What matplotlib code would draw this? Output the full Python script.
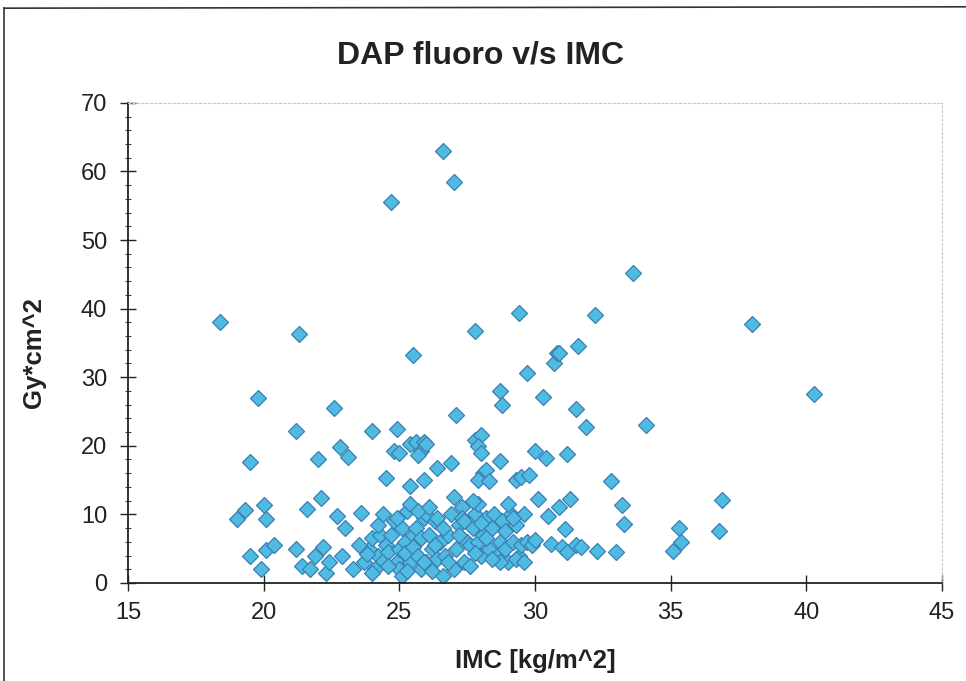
import matplotlib.pyplot as plt
from matplotlib.ticker import MultipleLocator
from matplotlib.lines import Line2D

plt.rcParams['font.family'] = ['Liberation Sans', 'DejaVu Sans']

# IMC [kg/m^2] and DAP fluoro [Gy*cm^2]
imc_sparse = [18.4, 21.3, 19.8, 19.5, 19.0, 19.3, 19.5, 19.9, 20.0, 20.1, 20.1, 20.4,
              21.2, 21.2, 21.4, 21.6, 21.7, 22.0, 22.1, 21.9, 22.2, 22.3, 22.4,
              22.6, 22.8, 23.1, 22.7, 23.0, 23.3, 22.9,
              23.6, 24.0, 24.5, 24.7, 24.9, 24.8, 25.0,
              25.5, 25.4, 25.6, 25.9, 25.8, 26.0, 25.7, 25.4, 25.9,
              26.6, 27.0, 27.1, 26.4, 26.9,
              27.8, 27.8, 28.0, 27.9, 28.0, 28.1, 27.9, 28.2, 28.3, 28.7, 28.7, 28.8, 29.4, 29.7,
              29.3, 29.5, 29.8, 30.0, 30.3, 30.4, 30.7, 30.8, 30.9,
              30.1, 30.5, 30.9, 31.2, 31.3, 31.1, 31.5, 31.6, 31.9, 32.2,
              30.6, 31.0, 31.2, 31.5, 31.7, 32.3,
              32.8, 33.2, 33.3, 33.0, 33.6, 34.1,
              35.1, 35.3, 35.4, 36.8, 36.9, 38.0, 40.3]
dap_sparse = [38.0, 36.3, 27.0, 17.7, 9.3, 10.7, 4.0, 2.0, 11.3, 9.3, 4.8, 5.5,
              22.1, 4.9, 2.5, 10.8, 2.0, 18.0, 12.4, 4.0, 5.3, 1.5, 3.0,
              25.5, 19.8, 18.3, 9.8, 8.0, 2.0, 4.0,
              10.2, 22.1, 15.3, 55.5, 22.5, 19.2, 19.0,
              33.2, 20.3, 20.5, 20.5, 19.3, 20.2, 18.7, 14.2, 15.0,
              63.0, 58.5, 24.5, 16.8, 17.5,
              36.8, 20.8, 21.6, 20.0, 18.9, 16.0, 15.0, 16.5, 14.8, 17.8, 28.0, 26.0, 39.3, 30.6,
              15.0, 15.5, 15.8, 19.3, 27.1, 18.2, 32.0, 33.5, 33.5,
              12.2, 9.8, 11.0, 18.8, 12.2, 7.8, 25.3, 34.5, 22.8, 39.1,
              5.7, 5.3, 4.5, 5.5, 5.3, 4.7,
              14.8, 11.3, 8.6, 4.5, 45.2, 23.0,
              4.7, 8.0, 6.0, 7.5, 12.1, 37.7, 27.5]

imc_dense = [23.7, 23.9, 24.0, 24.1, 24.2, 24.3, 24.4, 24.5, 24.6, 24.0, 23.8,
             24.7, 24.8, 24.9, 25.0, 25.1, 25.2, 25.3, 25.4, 25.5, 25.0, 25.2, 25.4, 24.9, 25.1, 25.5,
             25.6, 25.7, 25.8, 25.9, 26.0, 26.1, 26.2, 26.3, 26.4, 26.5, 25.8, 26.2, 26.0, 26.4,
             26.6, 26.7, 26.8, 26.9, 27.0, 27.1, 27.2, 27.3, 27.4, 27.5, 27.0, 27.2, 27.3,
             27.6, 27.7, 27.8, 27.9, 28.0, 28.1, 28.2, 28.3, 28.4, 28.5, 27.8, 28.2,
             28.6, 28.7, 28.8, 28.9, 29.0, 29.1, 29.2, 29.3, 29.4, 29.5, 29.0, 28.7, 29.3,
             29.7, 29.9, 29.6, 30.0,
             24.2, 24.6, 25.3, 25.7, 26.1, 26.6, 26.8, 27.6, 27.9, 28.4,
             28.9, 29.6, 24.4, 25.9, 26.3, 27.4, 28.0, 29.2, 27.7, 23.5]
dap_dense = [3.0, 5.0, 6.5, 2.0, 4.0, 7.0, 3.2, 5.5, 4.5, 1.5, 4.2,
             7.0, 9.0, 3.0, 5.0, 8.0, 6.0, 10.5, 3.0, 7.0, 2.0, 4.3, 11.5, 9.5, 1.0, 5.3,
             8.0, 4.0, 6.5, 9.5, 3.0, 7.0, 5.0, 9.0, 3.5, 6.0, 2.0, 1.8, 10.0, 9.5,
             1.0, 4.0, 7.0, 10.0, 12.5, 5.0, 8.5, 11.0, 3.0, 6.0, 2.0, 7.0, 9.5,
             5.5, 8.0, 10.0, 6.0, 4.0, 7.0, 9.5, 5.0, 8.0, 10.0, 4.3, 6.5,
             4.0, 6.0, 9.0, 5.0, 3.0, 10.0, 6.0, 8.5, 4.0, 5.5, 11.5, 3.0, 3.5,
             6.0, 5.5, 10.0, 6.2,
             8.5, 2.5, 1.8, 10.5, 11.0, 8.0, 3.0, 2.5, 11.5, 3.5,
             7.5, 3.0, 10.0, 3.0, 5.5, 9.0, 8.8, 9.5, 12.0, 5.5]

imc = imc_sparse + imc_dense
dap = dap_sparse + dap_dense

fig = plt.figure(figsize=(9.66, 6.81), dpi=100)
ax = fig.add_axes([0.1325, 0.144, 0.8425, 0.705])

ax.plot(imc, dap, linestyle='none', marker='D', markersize=8.5,
        markerfacecolor='#4fbae2', markeredgecolor='#3a7fb0', markeredgewidth=0.9)

ax.set_xlim(15, 45)
ax.set_ylim(0, 70)
ax.xaxis.set_major_locator(MultipleLocator(5))
ax.yaxis.set_major_locator(MultipleLocator(10))
ax.yaxis.set_minor_locator(MultipleLocator(2))

ax.tick_params(axis='both', which='major', direction='inout', length=12, width=1,
               labelsize=17, color='#222222', labelcolor='#222222')
ax.tick_params(axis='y', which='minor', direction='inout', length=5, width=0.8, color='#444444')
ax.tick_params(axis='x', pad=8)
ax.tick_params(axis='y', pad=9)

for side in ['left', 'bottom']:
    ax.spines[side].set_color('#222222')
    ax.spines[side].set_linewidth(1.3)
for side in ['top', 'right']:
    ax.spines[side].set_color('#c8c8c8')
    ax.spines[side].set_linestyle((0, (2, 2)))
    ax.spines[side].set_linewidth(0.8)

fig.text(0.497, 0.919, 'DAP fluoro v/s IMC', fontsize=23, fontweight='bold',
         color='#222222', ha='center', va='center')
ax.set_xlabel('IMC [kg/m^2]', fontsize=18.5, fontweight='bold', color='#222222')
ax.set_ylabel('Gy*cm^2', fontsize=18.5, fontweight='bold', color='#222222')
ax.xaxis.label.set_va('center')
ax.yaxis.label.set_va('center')
ax.xaxis.set_label_coords(0.5, -0.162)
ax.yaxis.set_label_coords(-0.115, 0.48)

# outer chart border (left and top visible in the scan)
fig.add_artist(Line2D([0.004, 0.004], [0.0, 0.988], color='#333333', linewidth=1.2))
fig.add_artist(Line2D([0.004, 1.0], [0.988, 0.99], color='#333333', linewidth=1.2))

fig.savefig('out.png', dpi=100)
